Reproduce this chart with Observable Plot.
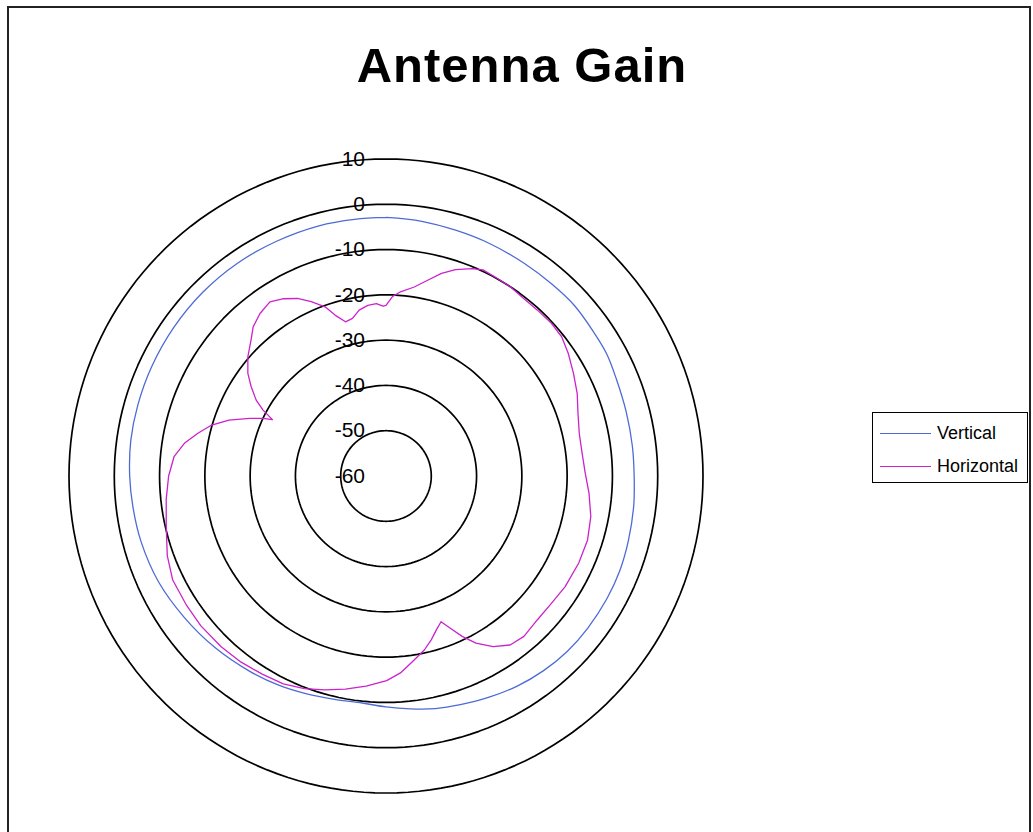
<!DOCTYPE html>
<html>
<head>
<meta charset="utf-8">
<script src="https://cdn.jsdelivr.net/npm/d3@7"></script>
<script src="https://cdn.jsdelivr.net/npm/@observablehq/plot@0.6"></script>
<style>
  html, body { margin: 0; padding: 0; background: #fff; }
  #wrap { position: relative; width: 1033px; height: 832px; overflow: hidden; font-family: "Liberation Sans", Arial, sans-serif; }
  #frame { position: absolute; left: 7px; top: 6px; width: 1024px; height: 840px; border: 2px solid #222; box-sizing: border-box; }
  #title { position: absolute; left: 0; width: 1044px; top: 37px; text-align: center; font-size: 49px; font-weight: bold; letter-spacing: 1px; color: #000; }
  #legend { position: absolute; left: 872px; top: 412px; width: 156px; height: 71px; border: 1px solid #000; box-sizing: border-box; background: #fff; }
  .item { position: absolute; left: 7px; height: 24px; display: flex; align-items: center; font-size: 18px; color: #000; }
  .swatch { width: 51px; height: 0; border-top: 1.5px solid; margin-right: 6px; }
  #chart { position: absolute; left: 0; top: 0; }
</style>
</head>
<body>
<div id="wrap">
  <div id="chart"></div>
  <div id="frame"></div>
  <div id="title"></div>
  <div id="legend"></div>
</div>
<script>
// ---- data ----
const chartTitle = "Antenna Gain";
const seriesNames = ["Vertical", "Horizontal"];
const seriesColors = ["#4d6bd6", "#cc22cc"];
const ringValues = [-50, -40, -30, -20, -10, 0, 10];
const tickValues = [10, 0, -10, -20, -30, -40, -50, -60];
const tickLabels = ["10", "0", "-10", "-20", "-30", "-40", "-50", "-60"];
const axisMin = -60;

// Vertical polarisation: angle (deg, clockwise from top) and gain (dB)
const verticalAngles = [0, 8, 16, 24, 33, 41, 48, 55, 61, 67, 75, 83, 90, 97, 105, 112, 119, 127, 134, 141, 148, 155, 162, 168, 174, 180, 186, 193, 200, 207, 215, 225, 235, 245, 255, 263, 270, 278, 286, 295, 305, 315, 325, 335, 345, 353];
const verticalGain = [-2.9, -3.2, -3.6, -3.8, -4.0, -4.0, -3.9, -4.2, -4.3, -4.8, -5.1, -5.2, -5.2, -4.9, -4.6, -4.3, -4.2, -4.2, -4.3, -4.7, -5.3, -6.1, -6.9, -7.5, -8.3, -9.0, -9.6, -9.4, -8.8, -8.1, -7.4, -6.5, -5.6, -4.6, -4.0, -3.7, -3.4, -3.1, -3.0, -2.9, -2.8, -2.7, -2.7, -2.8, -2.8, -2.9];

// Horizontal polarisation
const horizontalAngles = [0, 2, 4.5, 8.5, 12, 15.3, 18.6, 22.6, 25.2, 29.2, 33.3, 37.8, 42.4, 47.3, 51.6, 56.1, 61.3, 66.6, 71.9, 77.6, 83.4, 89.2, 94.9, 101.2, 107.6, 114.3, 121.7, 127.6, 133.5, 139.3, 143.7, 147.9, 151.7, 154.6, 157.1, 159.3, 161.8, 164.5, 167.5, 171.3, 175.8, 179.8, 185.4, 190.8, 195.9, 201, 206.3, 212, 218, 224, 231, 237, 244, 250, 257, 264, 270, 275.2, 279.2, 282.8, 286.3, 289.6, 292.9, 295.1, 296.4, 298.2, 300.3, 303.5, 306.6, 310.8, 315.2, 318.3, 322.2, 326.3, 330, 333.5, 336.8, 340.2, 342.5, 345.3, 348, 350.8, 353.9, 356.8, 359];
const horizontalGain = [-22.3, -20.4, -19.2, -17.8, -15.8, -13.6, -11.9, -10.4, -9.7, -9.9, -10.0, -10.4, -10.4, -10.3, -10.5, -11.5, -12.8, -14.0, -15.4, -16.3, -16.4, -16.0, -15.0, -13.9, -13.3, -13.3, -13.5, -13.9, -13.9, -13.3, -13.7, -15.5, -18.1, -20.8, -23.5, -25.6, -24.3, -22.5, -20.7, -18.9, -16.4, -14.8, -13.4, -12.1, -10.9, -9.7, -8.8, -8.4, -7.9, -7.6, -7.4, -7.5, -7.6, -8.6, -10.2, -11.2, -12.0, -13.0, -14.9, -17.4, -19.9, -23.2, -27.3, -30.0, -32.0, -29.2, -26.8, -24.3, -22.0, -19.7, -17.7, -15.9, -14.6, -13.8, -14.8, -16.2, -18.1, -20.3, -22.8, -24.8, -24.4, -22.9, -22.1, -21.9, -22.5];

// ---- polar helpers ----
const rad = d => d * Math.PI / 180;
const px = (a, v) => (v - axisMin) * Math.sin(rad(a));
const py = (a, v) => (v - axisMin) * Math.cos(rad(a));

function seriesTable(name, angles, gains) {
  const rows = angles.map((a, i) => ({series: name, a, v: gains[i]}));
  rows.push({...rows[0]}); // close the loop
  return rows;
}
const vRows = seriesTable("Vertical", verticalAngles, verticalGain);
const hRows = seriesTable("Horizontal", horizontalAngles, horizontalGain);

const ringRows = ringValues.flatMap(v => d3.range(0, 361, 2).map(a => ({ring: v, a, v})));
const labelRows = tickValues.map((v, i) => ({v, label: tickLabels[i]}));

const maxR = 10 - axisMin; // 70
const cx = 385.5, cy = 475.5, R = 317;

const plot = Plot.plot({
  width: 1033,
  height: 832,
  marginLeft: cx - R,
  marginRight: 1033 - (cx + R),
  marginTop: cy - R,
  marginBottom: 832 - (cy + R),
  x: {domain: [-maxR, maxR], axis: null},
  y: {domain: [-maxR, maxR], axis: null},
  style: {background: "transparent", overflow: "visible"},
  marks: [
    Plot.line(ringRows, {x: d => px(d.a, d.v), y: d => py(d.a, d.v), z: "ring", stroke: "#000", strokeWidth: 1.7}),
    Plot.line(vRows, {x: d => px(d.a, d.v), y: d => py(d.a, d.v), stroke: seriesColors[0], strokeWidth: 1.3, curve: "catmull-rom"}),
    Plot.line(hRows, {x: d => px(d.a, d.v), y: d => py(d.a, d.v), stroke: seriesColors[1], strokeWidth: 1.3}),
    Plot.text(labelRows, {x: () => 0, y: d => d.v - axisMin, text: "label", textAnchor: "end", dx: -21, fontSize: 21, fill: "#000", fontFamily: "Liberation Sans, Arial, sans-serif"})
  ]
});
document.getElementById("chart").appendChild(plot);

document.getElementById("title").textContent = chartTitle;
const legend = document.getElementById("legend");
seriesNames.forEach((n, i) => {
  const it = document.createElement("div");
  it.className = "item";
  it.style.top = (8 + i * 33) + "px";
  const sw = document.createElement("span");
  sw.className = "swatch";
  sw.style.borderTopColor = seriesColors[i];
  const tx = document.createElement("span");
  tx.textContent = n;
  it.appendChild(sw); it.appendChild(tx);
  legend.appendChild(it);
});
</script>
</body>
</html>
